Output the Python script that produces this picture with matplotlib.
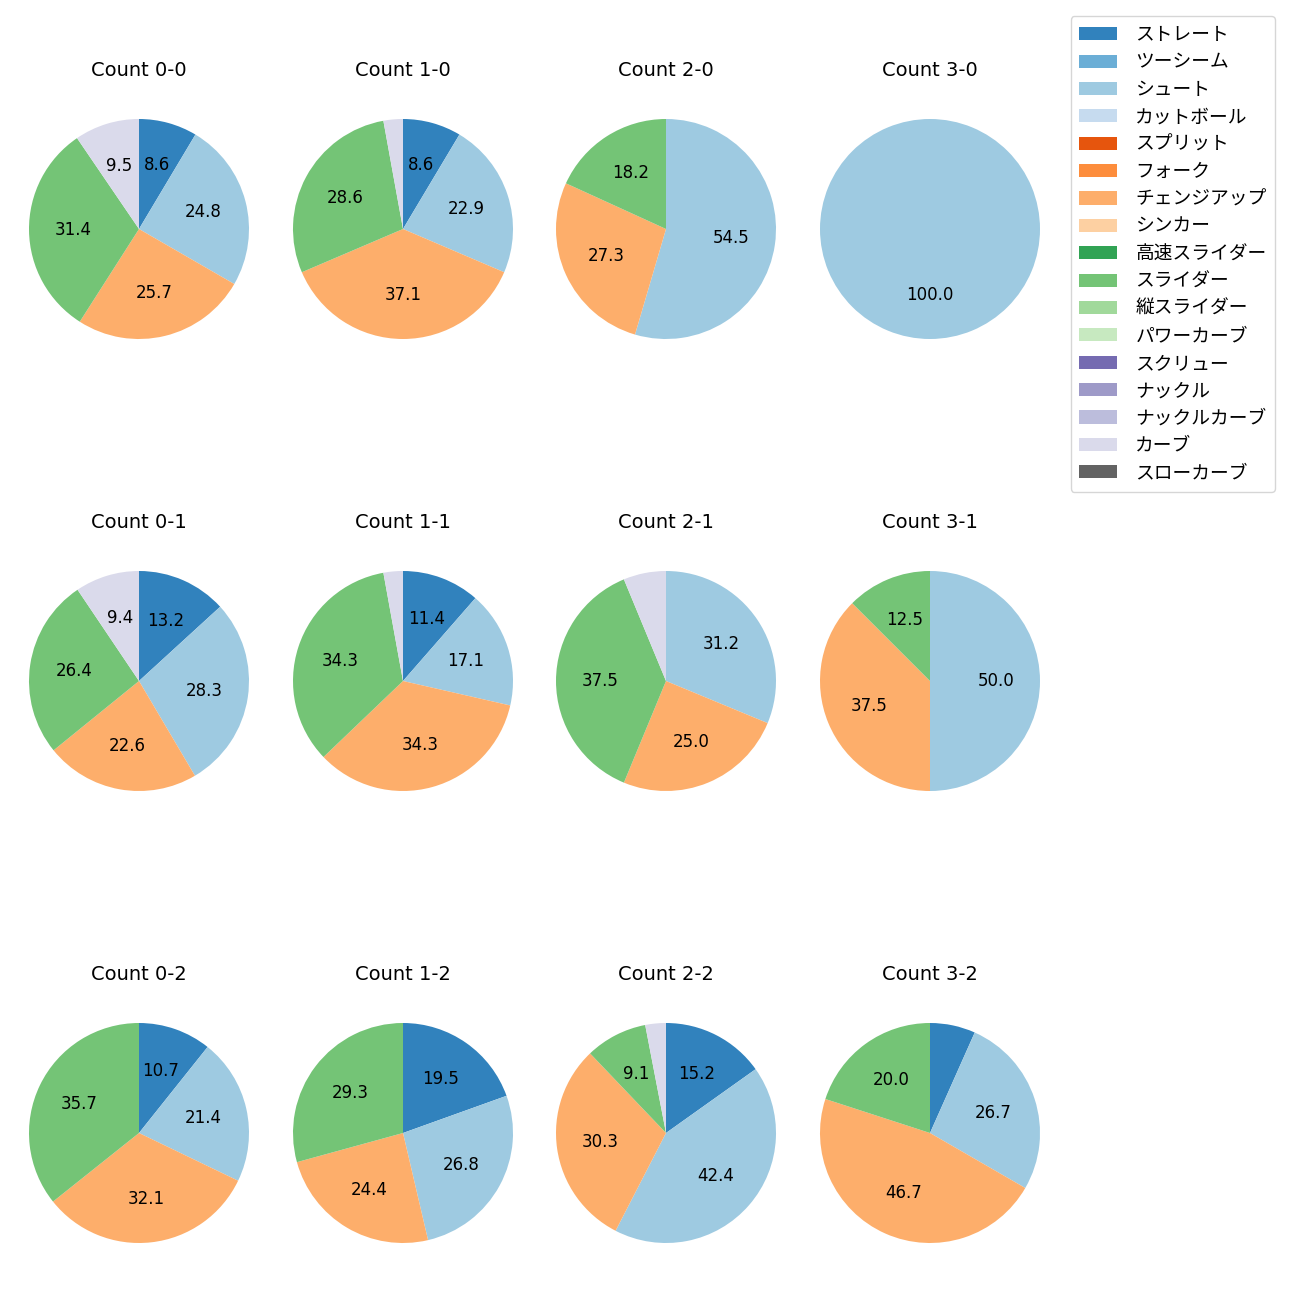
import numpy as np
import matplotlib
matplotlib.use('Agg')
import matplotlib.pyplot as plt
from matplotlib.patches import Patch

plt.rcParams['font.family'] = ['DejaVu Sans', 'Noto Sans CJK JP']

pitch_types = ['ストレート', 'ツーシーム', 'シュート', 'カットボール', 'スプリット', 'フォーク',
               'チェンジアップ', 'シンカー', '高速スライダー', 'スライダー', '縦スライダー',
               'パワーカーブ', 'スクリュー', 'ナックル', 'ナックルカーブ', 'カーブ', 'スローカーブ']

# pitch counts per ball-strike count, order: ストレート, シュート, チェンジアップ, スライダー, カーブ
used = ['ストレート', 'シュート', 'チェンジアップ', 'スライダー', 'カーブ']
counts = {
    '0-0': [9, 26, 27, 33, 10],
    '1-0': [3, 8, 13, 10, 1],
    '2-0': [0, 6, 3, 2, 0],
    '3-0': [0, 1, 0, 0, 0],
    '0-1': [7, 15, 12, 14, 5],
    '1-1': [4, 6, 12, 12, 1],
    '2-1': [0, 5, 4, 6, 1],
    '3-1': [0, 4, 3, 1, 0],
    '0-2': [3, 6, 9, 10, 0],
    '1-2': [8, 11, 10, 12, 0],
    '2-2': [5, 14, 10, 3, 1],
    '3-2': [1, 4, 7, 3, 0],
}

cmap = plt.get_cmap('tab20c')
colors = {name: cmap(i) for i, name in enumerate(pitch_types)}

fig = plt.figure(figsize=(13, 13), dpi=100)
W = H = 1300.0
r = 110.0
xs = [139, 403, 666, 930]
ys = [229, 681, 1133]

def fmt(p):
    return '%.1f' % p if p >= 7 else ''

for key, vals in counts.items():
    balls, strikes = [int(s) for s in key.split('-')]
    cx, cy = xs[balls], ys[strikes]
    size = 2.5 * r
    ax = fig.add_axes([(cx - size / 2) / W, 1 - (cy + size / 2) / H, size / W, size / H])
    v = [x for x in vals if x > 0]
    c = [colors[n] for n, x in zip(used, vals) if x > 0]
    ax.pie(v, colors=c, startangle=90, counterclock=False, autopct=fmt,
           textprops={'fontsize': 12})
    ax.set_title('Count ' + key, fontsize=14, pad=11.5)

handles = [Patch(facecolor=colors[n], label=n) for n in pitch_types]
fig.legend(handles=handles, loc='upper right', bbox_to_anchor=(0.988, 0.995),
           prop={'family': ['Noto Sans CJK JP'], 'size': 13.5}, labelspacing=0.34,
           handletextpad=1.0, borderpad=0.45)

fig.savefig('out.png')
